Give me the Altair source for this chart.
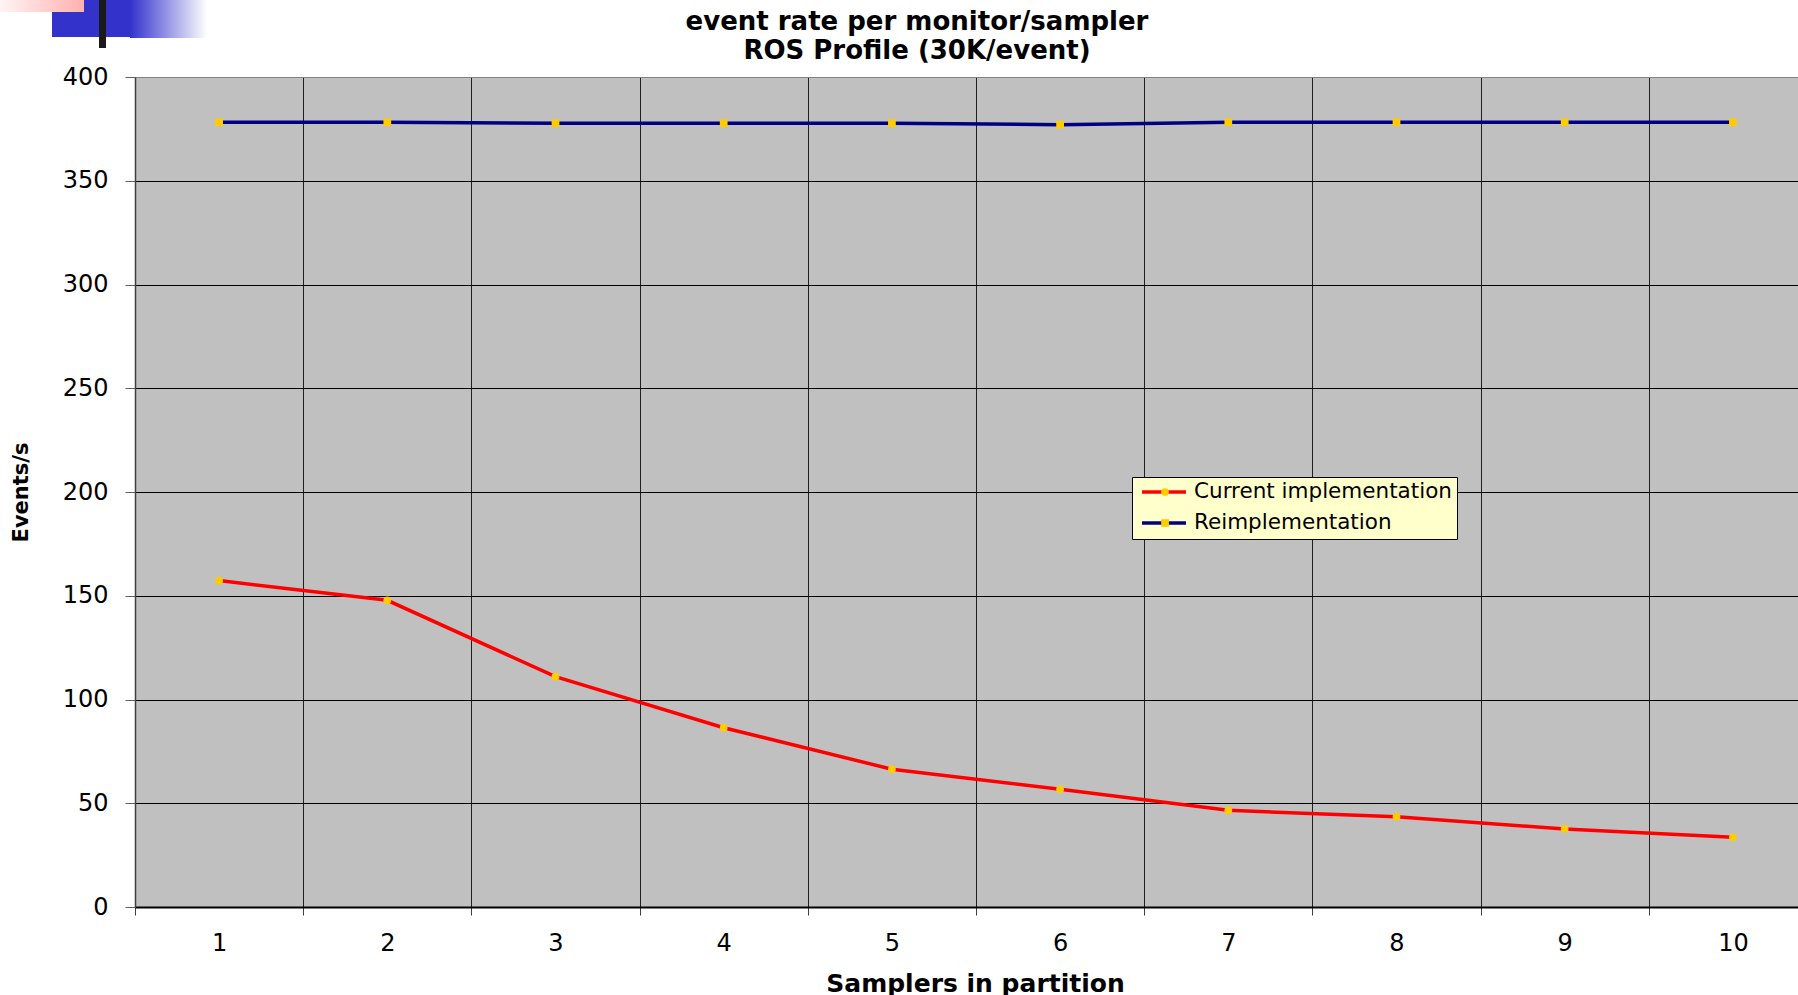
import altair as alt
import pandas as pd

# ---- data ----
samplers = [1, 2, 3, 4, 5, 6, 7, 8, 9, 10]
current = [157.3, 147.8, 111.0, 86.4, 66.4, 56.7, 46.6, 43.5, 37.6, 33.6]
reimpl = [378.2, 378.2, 377.7, 377.7, 377.7, 377.0, 378.2, 378.2, 378.2, 378.2]
series_names = ["Current implementation", "Reimplementation"]
y_ticks = [0, 50, 100, 150, 200, 250, 300, 350, 400]
x_bounds = [0.5, 1.5, 2.5, 3.5, 4.5, 5.5, 6.5, 7.5, 8.5, 9.5]

rows = []
for name, vals in zip(series_names, [current, reimpl]):
    for s, v in zip(samplers, vals):
        rows.append({"samplers": s, "rate": v, "series": name, "marker": name})
df = pd.DataFrame(rows)

W, H = 1663, 830
OX, OY = 135, 77  # plot origin on the page
FONT = "DejaVu Sans"

x_scale = alt.Scale(domain=[0.5, 10.387], nice=False, zero=False)
y_scale = alt.Scale(domain=[0, 400], nice=False)

x_axis = alt.Axis(
    values=sorted(samplers + x_bounds),
    labelExpr="datum.value % 1 === 0 ? format(datum.value, 'd') : ''",
    labelOverlap=False, labelFlush=False,
    labelFont=FONT, labelFontSize=24, labelColor="#000000", labelPadding=16,
    tickSize=8, tickColor="#404040", tickWidth=1,
    tickOpacity={"condition": {"test": "datum.value % 1 === 0", "value": 0}, "value": 1},
    grid=True, gridColor="#202020", gridWidth=1,
    gridOpacity={"condition": {"test": "datum.value % 1 === 0", "value": 0}, "value": 1},
    domainColor="#000000", domainWidth=2,
    titleFont=FONT, titleFontSize=25, titleFontWeight="bold", titleColor="#000000",
    titleX=975 - OX, titleY=983 - (OY + H), titleBaseline="middle",
)
y_axis = alt.Axis(
    values=y_ticks,
    labelFont=FONT, labelFontSize=24, labelColor="#000000", labelPadding=17,
    tickSize=10, tickColor="#606060", tickWidth=1,
    grid=True, gridWidth=1,
    gridColor={"condition": {"test": "datum.value === 400", "value": "#808080"}, "value": "#000000"},
    domainColor="#404040", domainWidth=1.5,
    titleFont=FONT, titleFontSize=21, titleFontWeight="bold", titleColor="#000000",
    titleAngle=270, titleX=21 - OX, titleY=492 - OY, titleBaseline="middle",
)

LX, LY = 1132 - OX, 477 - OY
common_leg = dict(orient="none", legendX=LX, legendY=LY, title=None,
                  labelFont=FONT, labelFontSize=21.5, rowPadding=9, padding=5,
                  clipHeight=20, labelLimit=400)

lines = alt.Chart(df).mark_line(strokeWidth=3.5).encode(
    x=alt.X("samplers:Q", scale=x_scale, axis=x_axis, title="Samplers in partition"),
    y=alt.Y("rate:Q", scale=y_scale, axis=y_axis, title="Events/s"),
    stroke=alt.Stroke(
        "series:N",
        scale=alt.Scale(range=["#FF0000", "#000080"]),
        legend=alt.Legend(fillColor="#FFFFCC", strokeColor="#000000",
                          symbolType="stroke", symbolSize=1936, symbolStrokeWidth=3.5,
                          symbolOffset=3, labelOffset=6, labelColor="#000000",
                          **common_leg),
    ),
)

points = alt.Chart(df).mark_point(filled=True, size=60, opacity=1, color="#FFCC00").encode(
    x="samplers:Q",
    y="rate:Q",
    shape=alt.Shape(
        "marker:N",
        scale=alt.Scale(range=["circle", "square"]),
        legend=alt.Legend(symbolSize=60, symbolFillColor="#FFCC00", symbolStrokeWidth=0,
                          symbolOffset=17.3, labelOffset=6, labelOpacity=0,
                          **common_leg),
    ),
)

deco_df = pd.DataFrame({"k": [0]})


def deco(x0, x1, y0, y1, color):
    return alt.Chart(deco_df).mark_rect(color=color).encode(
        x=alt.value(x0 - OX), x2=alt.value(x1 - OX),
        y=alt.value(y0 - OY), y2=alt.value(y1 - OY),
    )


blue_grad = alt.Gradient(gradient="linear", x1=0, x2=1, y1=0, y2=0,
                         stops=[alt.GradientStop(offset=0, color="#3333CC"),
                                alt.GradientStop(offset=1, color="#FFFFFF")])
pink_grad = alt.Gradient(gradient="linear", x1=0, x2=1, y1=0, y2=0,
                         stops=[alt.GradientStop(offset=0, color="#FFF4F4"),
                                alt.GradientStop(offset=1, color="#FFB0B0")])

decorations = [
    deco(52, 130, 0, 37, "#3333CC"),
    deco(130, 207, 0, 38, blue_grad),
    deco(0, 84, 0, 12, pink_grad),
    deco(99, 106, 0, 48, "#1A1A1A"),
]

chart = alt.layer(lines, points, *decorations).properties(
    width=W, height=H,
    title=alt.TitleParams(
        text=["event rate per monitor/sampler", "ROS Profile (30K/event)"],
        font=FONT, fontSize=26, fontWeight="bold", color="#000000",
        anchor="middle", frame="group", dx=917 - (OX + W / 2), dy=68,
        lineHeight=29, offset=4,
    ),
).configure(
    background="#FFFFFF", padding=0,
).configure_view(
    fill="#C0C0C0", strokeWidth=0,
)

chart.save("out.html", embed_options={"renderer": "svg", "actions": False})
